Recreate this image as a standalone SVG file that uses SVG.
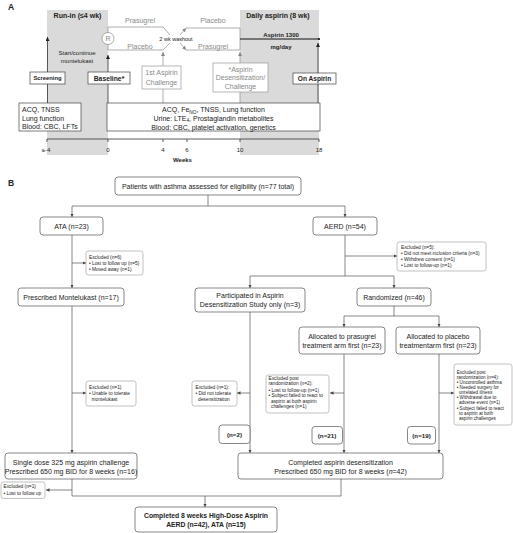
<svg xmlns="http://www.w3.org/2000/svg" width="513" height="533" viewBox="0 0 513 533">
<style>
text{font-family:"Liberation Sans",Arial,sans-serif;fill:#222}
.b{font-weight:bold}
.t7{font-size:7px}
.t6{font-size:6px}
.t5{font-size:4.8px}
.t46{font-size:4.6px}
.g{fill:#888}
.box{fill:#fff;stroke:#444;stroke-width:0.7}
.gbox{fill:#fff;stroke:#999;stroke-width:0.7}
.rb{fill:#fff;stroke:#555;stroke-width:0.7}
.eb{fill:#fff;stroke:#999;stroke-width:0.6}
.ln{fill:none;stroke:#333;stroke-width:0.8}
.gl{fill:none;stroke:#999;stroke-width:0.8}
.bl{fill:none;stroke:#555;stroke-width:0.7}
.band{fill:#dadada}
.mid{text-anchor:middle}
</style>
<defs>
<marker id="ah" viewBox="0 0 6 6" refX="6" refY="3" markerWidth="4" markerHeight="4" markerUnits="userSpaceOnUse" orient="auto"><path d="M0,0 L6,3 L0,6 z" fill="#222"/></marker>
<marker id="ahg" viewBox="0 0 6 6" refX="6" refY="3" markerWidth="4" markerHeight="4" markerUnits="userSpaceOnUse" orient="auto"><path d="M0,0 L6,3 L0,6 z" fill="#888"/></marker>
<marker id="ahs" viewBox="0 0 6 6" refX="6" refY="3" markerWidth="3.5" markerHeight="3.5" markerUnits="userSpaceOnUse" orient="auto"><path d="M0,0 L6,3 L0,6 z" fill="#444"/></marker>
</defs>

<!-- Panel A -->
<text x="8" y="10" class="b" font-size="8.5px">A</text>
<rect class="band" x="47" y="10" width="61" height="145"/>
<rect class="band" x="240" y="10" width="79" height="145"/>
<text x="77.5" y="18" class="b t7 mid">Run-in (≤4 wk)</text>
<text x="278" y="18" class="b t7 mid">Daily aspirin (8 wk)</text>
<text x="77" y="55" class="t6 mid">Start/continue</text>
<text x="77" y="63" class="t6 mid">montelukast</text>

<g id="a-connectors">
<line class="ln" x1="47.5" y1="103" x2="47.5" y2="37" marker-end="url(#ah)"/>
<line class="ln" x1="108" y1="103" x2="108" y2="55" marker-end="url(#ah)"/>
<line class="gl" x1="163" y1="103" x2="163" y2="52" marker-end="url(#ahg)"/>
<line class="gl" x1="240" y1="103" x2="240" y2="52" marker-end="url(#ahg)"/>
<line class="ln" x1="318" y1="103" x2="318" y2="43" marker-end="url(#ah)"/>
<path class="gl" d="M108,27 V50 M108,27 H163 L170,35 M108,50 H163 L170,43"/>
<path class="gl" d="M180,35 L186,28" marker-end="url(#ahg)"/>
<path class="gl" d="M180,43 L186,50" marker-end="url(#ahg)"/>
<path class="gl" d="M186,28 H240 V50 H186"/>
<line x1="240" y1="39" x2="319" y2="39" stroke="#111" stroke-width="1"/>
<circle cx="319" cy="39" r="1.1" fill="#111"/>
</g>
<circle cx="108" cy="38.5" r="6" fill="#fff" stroke="#888" stroke-width="0.7"/>
<text x="108" y="41" class="t7 mid g">R</text>
<text x="140" y="23" class="t7 mid g">Prasugrel</text>
<text x="140" y="48.5" class="t7 mid g">Placebo</text>
<text x="213" y="23" class="t7 mid g">Placebo</text>
<text x="213" y="48.5" class="t7 mid g">Prasugrel</text>
<text x="176" y="41" class="mid" font-size="5.5px" fill="#555">2 wk washout</text>
<text x="281" y="36.5" class="b t6 mid">Aspirin 1300</text>
<text x="281" y="49" class="b t6 mid">mg/day</text>

<g id="a-screening"><rect class="box" x="30" y="72" width="35" height="12"/><text x="47.5" y="80.3" class="b mid" font-size="5.8px">Screening</text></g>
<g id="a-baseline"><rect class="box" x="88" y="72" width="42" height="12"/><text x="109" y="80.5" class="b mid" font-size="6.8px">Baseline*</text></g>
<g id="a-first-challenge"><rect class="gbox" x="142" y="66" width="39" height="23"/><text x="161.5" y="75.3" class="t7 mid g">1st Aspirin</text><text x="161.5" y="85" class="t7 mid g">Challenge</text></g>
<g id="a-desens"><rect class="gbox" x="213" y="63" width="55" height="29"/><text x="240.5" y="71.7" class="t7 mid g">*Aspirin</text><text x="240.5" y="80.2" class="t7 mid g">Desensitization/</text><text x="240.5" y="89" class="t7 mid g">Challenge</text></g>
<g id="a-on-aspirin"><rect class="box" x="293" y="73" width="43" height="11"/><text x="314.5" y="80.8" class="b mid" font-size="6.6px">On Aspirin</text></g>
<g id="a-info-left"><rect class="box" x="19" y="103" width="62" height="28"/>
<text x="22" y="111.8" class="t7">ACQ, TNSS</text><text x="22" y="120.6" class="t7">Lung function</text><text x="22" y="129.4" class="t7">Blood: CBC, LFTs</text></g>
<g id="a-info-main"><rect class="box" x="107" y="103" width="213" height="28"/>
<text x="213.5" y="112.2" class="t7 mid">ACQ, Fe<tspan font-size="4.8px" dy="1.5">NO</tspan><tspan dy="-1.5">, TNSS, Lung function</tspan></text>
<text x="213.5" y="120.8" class="t7 mid">Urine: LTE<tspan font-size="4.8px" dy="1.5">4</tspan><tspan dy="-1.5">, Prostaglandin metabolites</tspan></text>
<text x="213.5" y="129.6" class="t7 mid">Blood: CBC, platelet activation, genetics</text></g>

<g id="a-axis">
<path class="ln" d="M47,139 H319 M47,139 V142 M108,139 V142 M163,139 V142 M187,139 V142 M240,139 V142 M319,139 V142"/>
<text x="46" y="151.5" class="t6 mid" fill="#444">≤-4</text>
<text x="108" y="151.5" class="t6 mid" fill="#444">0</text>
<text x="163" y="151.5" class="t6 mid" fill="#444">4</text>
<text x="187" y="151.5" class="t6 mid" fill="#444">6</text>
<text x="240" y="151.5" class="t6 mid" fill="#444">10</text>
<text x="319" y="151.5" class="t6 mid" fill="#444">18</text>
<text x="182.5" y="161.5" class="b t6 mid">Weeks</text>
</g>

<!-- Panel B -->
<text x="8" y="186" class="b" font-size="8.5px">B</text>
<g id="b-connectors">
<path class="bl" d="M208,195 V206 M72,206 H345"/>
<line class="bl" x1="72" y1="206" x2="72" y2="217" marker-end="url(#ahs)"/>
<line class="bl" x1="345" y1="206" x2="345" y2="217" marker-end="url(#ahs)"/>
<line class="bl" x1="72" y1="235" x2="72" y2="288" marker-end="url(#ahs)"/>
<line class="bl" x1="72" y1="263" x2="86" y2="263" marker-end="url(#ahs)"/>
<path class="bl" d="M345,235 V276 M250,276 H394"/>
<line class="bl" x1="345" y1="256" x2="397" y2="256" marker-end="url(#ahs)"/>
<line class="bl" x1="250" y1="276" x2="250" y2="288" marker-end="url(#ahs)"/>
<line class="bl" x1="394" y1="276" x2="394" y2="288" marker-end="url(#ahs)"/>
<path class="bl" d="M394,306 V316 M344,316 H439"/>
<line class="bl" x1="344" y1="316" x2="344" y2="327" marker-end="url(#ahs)"/>
<line class="bl" x1="439" y1="316" x2="439" y2="327" marker-end="url(#ahs)"/>
<line class="bl" x1="72" y1="306" x2="72" y2="453" marker-end="url(#ahs)"/>
<line class="bl" x1="72" y1="393" x2="86" y2="393" marker-end="url(#ahs)"/>
<line class="bl" x1="250" y1="312" x2="250" y2="453" marker-end="url(#ahs)"/>
<line class="bl" x1="250" y1="393" x2="237" y2="393" marker-end="url(#ahs)"/>
<line class="bl" x1="344" y1="354" x2="344" y2="453" marker-end="url(#ahs)"/>
<line class="bl" x1="344" y1="393" x2="330" y2="393" marker-end="url(#ahs)"/>
<line class="bl" x1="439" y1="354" x2="439" y2="453" marker-end="url(#ahs)"/>
<line class="bl" x1="439" y1="393" x2="454" y2="393" marker-end="url(#ahs)"/>
<path class="bl" d="M72,479 V496 H341 V479"/>
<line class="bl" x1="72" y1="490" x2="46" y2="490" marker-end="url(#ahs)"/>
<line class="bl" x1="205" y1="496" x2="205" y2="507" marker-end="url(#ahs)"/>
</g>

<g id="b-assessed"><rect class="rb" x="115" y="177" width="186" height="18" rx="3"/><text x="208" y="188.5" class="t7 mid">Patients with asthma assessed for eligibility (n=77 total)</text></g>
<g id="b-ata"><rect class="rb" x="40" y="217" width="63" height="18" rx="3"/><text x="71.5" y="228.5" class="t7 mid">ATA (n=23)</text></g>
<g id="b-aerd"><rect class="rb" x="313" y="217" width="64" height="18" rx="3"/><text x="345" y="228.5" class="t7 mid">AERD (n=54)</text></g>
<g id="b-excl-ata"><rect class="eb" x="86" y="251" width="57" height="24" rx="2.5"/>
<text x="89" y="258.8" class="t5">Excluded (n=6)</text><text x="89" y="264.5" class="t5">• Lost to follow up (n=5)</text><text x="89" y="270.5" class="t5">• Moved away (n=1)</text></g>
<g id="b-excl-aerd"><rect class="eb" x="397" y="242" width="89" height="29" rx="2.5"/>
<text x="401" y="249" class="t5">Excluded (n=5):</text><text x="401" y="255" class="t5">• Did not meet inclusion criteria (n=3)</text><text x="401" y="261" class="t5">• Withdrew consent (n=1)</text><text x="401" y="267" class="t5">• Lost to follow-up (n=1)</text></g>
<g id="b-montelukast"><rect class="rb" x="18" y="288" width="106" height="18" rx="3"/><text x="71" y="299.5" class="t7 mid">Prescribed Montelukast (n=17)</text></g>
<g id="b-participated"><rect class="rb" x="195" y="288" width="110" height="24" rx="3"/><text x="250" y="298.3" class="t7 mid">Participated in Aspirin</text><text x="250" y="306.8" class="t7 mid">Desensitization Study only (n=3)</text></g>
<g id="b-randomized"><rect class="rb" x="357" y="288" width="74" height="18" rx="3"/><text x="394" y="299.5" class="t7 mid">Randomized (n=46)</text></g>
<g id="b-prasugrel"><rect class="rb" x="299" y="327" width="86" height="27" rx="3"/><text x="342" y="339.2" class="t7 mid">Allocated to prasugrel</text><text x="342" y="347.7" class="t7 mid">treatment arm first (n=23)</text></g>
<g id="b-placebo"><rect class="rb" x="396" y="327" width="84" height="27" rx="3"/><text x="438" y="339.2" class="t7 mid">Allocated to placebo</text><text x="438" y="347.7" class="t7 mid">treatmentarm first (n=23)</text></g>
<g id="b-excl-mont"><rect class="eb" x="86" y="381" width="50" height="25" rx="2.5"/>
<text x="89" y="388.5" class="t5">Excluded (n=1)</text><text x="89" y="395" class="t5">• Unable to tolerate</text><text x="91.5" y="401" class="t5">montelukast</text></g>
<g id="b-excl-part"><rect class="eb" x="192" y="381" width="45" height="25" rx="2.5"/>
<text x="195.5" y="388.5" class="t5">Excluded (n=1):</text><text x="195.5" y="395" class="t5">• Did not tolerate</text><text x="198" y="401" class="t5">desensitization</text></g>
<g id="b-excl-pras"><rect class="eb" x="266" y="375" width="63" height="38" rx="2.5"/>
<text x="268.5" y="380" class="t5">Excluded post</text><text x="268.5" y="385.3" class="t5">randomization (n=2):</text><text x="268.5" y="391.6" class="t5">• Lost to follow-up (n=1)</text><text x="268.5" y="397.4" class="t5">• Subject failed to react to</text><text x="271" y="402.8" class="t5">aspirin at both aspirin</text><text x="271" y="408.4" class="t5">challenges (n=1)</text></g>
<g id="b-excl-plac"><rect class="eb" x="454" y="364" width="58" height="61" rx="2.5"/>
<text x="456.7" y="374" class="t46">Excluded post</text><text x="456.7" y="379.3" class="t46">randomization (n=4):</text><text x="456.7" y="384.3" class="t46">• Uncontrolled asthma</text><text x="456.7" y="389.3" class="t46">• Needed surgery for</text><text x="459" y="394" class="t46">unrelated illness</text><text x="456.7" y="399.3" class="t46">• Withdrawal due to</text><text x="459" y="404" class="t46">adverse event (n=1)</text><text x="456.7" y="410" class="t46">• Subject failed to react</text><text x="459" y="415" class="t46">to aspirin at both</text><text x="459" y="420" class="t46">aspirin challenges</text></g>
<g id="b-n2"><rect class="rb" x="219" y="425" width="31" height="18.5" rx="3"/><text x="234.5" y="436.5" class="b mid" font-size="6.2px">(n=2)</text></g>
<g id="b-n21"><rect class="rb" x="312" y="426.5" width="30.5" height="17.5" rx="3"/><text x="327" y="437.5" class="b mid" font-size="6.2px">(n=21)</text></g>
<g id="b-n19"><rect class="rb" x="407.5" y="426.5" width="28" height="17.5" rx="3"/><text x="421.5" y="437.5" class="b mid" font-size="6.2px">(n=19)</text></g>
<g id="b-single"><rect class="rb" x="5" y="453" width="132" height="26" rx="3"/><text x="71" y="465" class="t7 mid">Single dose 325 mg aspirin challenge</text><text x="71" y="474" class="t7 mid">Prescribed 650 mg BID for 8 weeks (n=16)</text></g>
<g id="b-completed-desens"><rect class="rb" x="238" y="453" width="205" height="26" rx="3"/><text x="340.5" y="465" class="t7 mid">Completed aspirin desensitization</text><text x="340.5" y="474" class="t7 mid">Prescribed 650 mg BID for 8 weeks (<tspan font-style="italic">n</tspan>=42)</text></g>
<g id="b-excl-lost"><rect class="eb" x="1" y="482" width="44" height="16.5" rx="2.5"/><text x="3.5" y="488.3" class="t5">Excluded (n=1)</text><text x="3.5" y="494.8" class="t5">• Lost to follow up</text></g>
<g id="b-final"><rect class="rb" x="135" y="507" width="142" height="25" rx="3"/><text x="206" y="517.5" class="b mid" font-size="6.8px">Completed 8 weeks High-Dose Aspirin</text><text x="206" y="526.5" class="b mid" font-size="6.8px">AERD (n=42), ATA (n=15)</text></g>
</svg>
